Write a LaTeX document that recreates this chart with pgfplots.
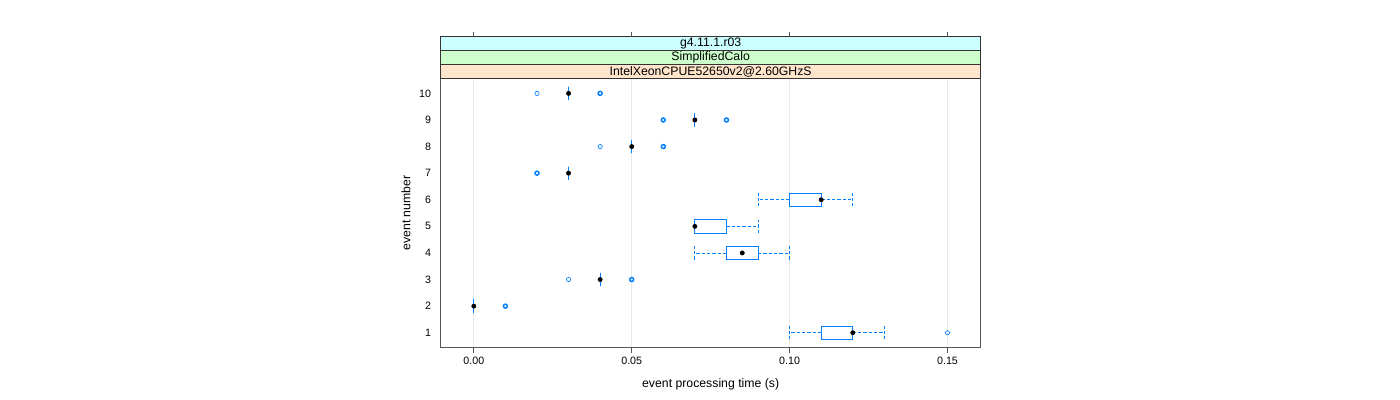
\documentclass[border=0pt]{standalone}
\usepackage{fontspec}
\setmainfont{Liberation Sans}
\usepackage{pgfplots}
\pgfplotsset{compat=1.18}
\usepgfplotslibrary{statistics}

\definecolor{bwblue}{HTML}{0080FF}
\definecolor{stripA}{HTML}{FFE5CC}
\definecolor{stripB}{HTML}{CCFFCC}
\definecolor{stripC}{HTML}{CCFFFF}
\definecolor{framegray}{HTML}{555555}

\pgfplotsset{
  /pgf/number format/assume math mode=true,
  bw/.style={bwblue, line width=0.6pt,
    boxplot/draw direction=x,
    boxplot/box extend=0.5,
    boxplot/whisker extend=0.5,
    boxplot/every whisker/.style={dash pattern=on 2.5pt off 1.5pt},
    boxplot/every median/.style={draw=none}},
}

\begin{document}
\begin{tikzpicture}[font=\fontsize{8}{9.6}\selectfont]
\path[use as bounding box] (0,0) rectangle (1050pt,300pt);
\begin{axis}[
  at={(330.5pt,39.2pt)}, anchor=south west,
  scale only axis, width=405pt, height=202pt,
  xmin=-0.0105, xmax=0.1605, ymin=0.436, ymax=10.564,
  xtick={0,0.05,0.1,0.15}, xticklabels={0.00,0.05,0.10,0.15},
  ytick={1,2,3,4,5,6,7,8,9,10},
  xtick pos=left, ytick pos=left,
  tick align=outside, major tick length=3.75pt,
  y tick style={draw=none},
  x tick style={framegray, line width=0.6pt},
  xmajorgrids, grid style={black!9, line width=0.5pt},
  axis line style={framegray, line width=0.7pt},
  clip=false,
  label style={font=\fontsize{9.2}{11}\selectfont},
  xlabel={event processing time (s)}, ylabel={event number},
  xlabel style={at={(axis description cs:0.5,-0.1347)}, anchor=center},
  ylabel style={at={(axis description cs:-0.0642,0.5)}, anchor=center},
]
% boxes: one per event number
\addplot[bw, boxplot prepared={draw position=1, lower whisker=0.10, lower quartile=0.11, median=0.12, upper quartile=0.12, upper whisker=0.13}] coordinates {};
\addplot[bw, boxplot prepared={draw position=2, lower whisker=0, lower quartile=0, median=0, upper quartile=0, upper whisker=0}] coordinates {};
\addplot[bw, boxplot prepared={draw position=3, lower whisker=0.04, lower quartile=0.04, median=0.04, upper quartile=0.04, upper whisker=0.04}] coordinates {};
\addplot[bw, boxplot prepared={draw position=4, lower whisker=0.07, lower quartile=0.08, median=0.085, upper quartile=0.09, upper whisker=0.10}] coordinates {};
\addplot[bw, boxplot prepared={draw position=5, lower whisker=0.07, lower quartile=0.07, median=0.07, upper quartile=0.08, upper whisker=0.09}] coordinates {};
\addplot[bw, boxplot prepared={draw position=6, lower whisker=0.09, lower quartile=0.10, median=0.11, upper quartile=0.11, upper whisker=0.12}] coordinates {};
\addplot[bw, boxplot prepared={draw position=7, lower whisker=0.03, lower quartile=0.03, median=0.03, upper quartile=0.03, upper whisker=0.03}] coordinates {};
\addplot[bw, boxplot prepared={draw position=8, lower whisker=0.05, lower quartile=0.05, median=0.05, upper quartile=0.05, upper whisker=0.05}] coordinates {};
\addplot[bw, boxplot prepared={draw position=9, lower whisker=0.07, lower quartile=0.07, median=0.07, upper quartile=0.07, upper whisker=0.07}] coordinates {};
\addplot[bw, boxplot prepared={draw position=10, lower whisker=0.03, lower quartile=0.03, median=0.03, upper quartile=0.03, upper whisker=0.03}] coordinates {};
% outliers (single)
\addplot[only marks, bwblue, mark=o, mark size=1.6pt, mark options={line width=0.5pt}] coordinates {
  (0.15,1) (0.03,3) (0.04,8) (0.02,10)
};
% outliers (repeated values)
\addplot[only marks, bwblue, mark=o, mark size=1.5pt, mark options={line width=1.1pt}] coordinates {
  (0.01,2) (0.05,3) (0.02,7) (0.06,8) (0.06,9) (0.08,9) (0.04,10)
};
% medians
\addplot[only marks, black, mark=*, mark size=1.6pt] coordinates {
  (0.12,1) (0,2) (0.04,3) (0.085,4) (0.07,5) (0.11,6) (0.03,7) (0.05,8) (0.07,9) (0.03,10)
};
% strips
\draw[black!80, line width=0.6pt, fill=stripA] (rel axis cs:0,1) rectangle ([yshift=10.45pt]rel axis cs:1,1);
\draw[black!80, line width=0.6pt, fill=stripB] ([yshift=10.45pt]rel axis cs:0,1) rectangle ([yshift=20.9pt]rel axis cs:1,1);
\draw[black!80, line width=0.6pt, fill=stripC] ([yshift=20.9pt]rel axis cs:0,1) rectangle ([yshift=31.35pt]rel axis cs:1,1);
\begin{scope}[font=\fontsize{9.2}{11}\selectfont]
\node at ([yshift=5.22pt]rel axis cs:0.5,1) {IntelXeonCPUE52650v2@2.60GHzS};
\node at ([yshift=15.67pt]rel axis cs:0.5,1) {SimplifiedCalo};
\node at ([yshift=26.12pt]rel axis cs:0.5,1) {g4.11.1.r03};
\end{scope}
% top ticks above the strips
\draw[framegray, line width=0.6pt] ([yshift=31.35pt]axis cs:0,10.564) -- ([yshift=35.1pt]axis cs:0,10.564);
\draw[framegray, line width=0.6pt] ([yshift=31.35pt]axis cs:0.05,10.564) -- ([yshift=35.1pt]axis cs:0.05,10.564);
\draw[framegray, line width=0.6pt] ([yshift=31.35pt]axis cs:0.1,10.564) -- ([yshift=35.1pt]axis cs:0.1,10.564);
\draw[framegray, line width=0.6pt] ([yshift=31.35pt]axis cs:0.15,10.564) -- ([yshift=35.1pt]axis cs:0.15,10.564);
\end{axis}
\end{tikzpicture}
\end{document}
